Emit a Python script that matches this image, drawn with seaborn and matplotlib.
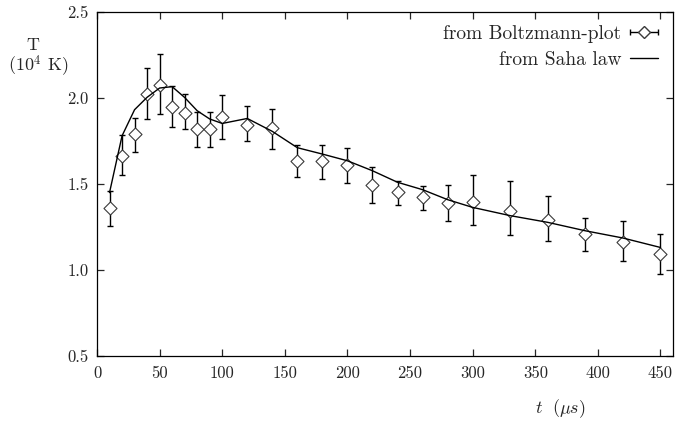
import numpy as np
import matplotlib
matplotlib.use("Agg")
import matplotlib.pyplot as plt
from matplotlib.container import ErrorbarContainer
from matplotlib.legend_handler import HandlerErrorbar
import seaborn as sns

# Boltzmann-plot measurements
t_meas = [10, 20, 30, 40, 50, 60, 70, 80, 90, 100, 120, 140, 160, 180, 200,
          220, 240, 260, 280, 300, 330, 360, 390, 420, 450]
T_meas = [1.358, 1.665, 1.79, 2.023, 2.077, 1.945, 1.915, 1.817, 1.817, 1.887,
          1.845, 1.823, 1.631, 1.631, 1.608, 1.494, 1.451, 1.426, 1.39, 1.397,
          1.345, 1.292, 1.207, 1.165, 1.091]
T_hi = [1.461, 1.783, 1.885, 2.174, 2.256, 2.067, 2.021, 1.92, 1.92, 2.015,
        1.953, 1.938, 1.724, 1.728, 1.709, 1.599, 1.517, 1.486, 1.492, 1.552,
        1.517, 1.428, 1.30, 1.283, 1.209]
T_lo = [1.254, 1.552, 1.684, 1.88, 1.907, 1.831, 1.817, 1.717, 1.713, 1.763,
        1.748, 1.705, 1.538, 1.531, 1.508, 1.39, 1.378, 1.35, 1.285, 1.26,
        1.205, 1.166, 1.112, 1.054, 0.977]

# Saha law curve
t_saha = [10, 20, 30, 40, 50, 60, 70, 80, 90, 100, 120, 140, 160, 180, 200,
          220, 240, 260, 280, 300, 330, 360, 390, 420, 450]
T_saha = [1.45, 1.78, 1.932, 2.004, 2.058, 2.066, 2.003, 1.926, 1.878, 1.852,
          1.881, 1.806, 1.711, 1.674, 1.635, 1.577, 1.51, 1.467, 1.409, 1.364,
          1.316, 1.277, 1.228, 1.186, 1.131]

x_ticks = [0, 50, 100, 150, 200, 250, 300, 350, 400, 450]
y_ticks = [0.5, 1.0, 1.5, 2.0, 2.5]

sns.set_style("ticks")
plt.rcParams.update({
    "font.family": ["cmr10", "DejaVu Serif"],
    "mathtext.fontset": "cm",
    "axes.formatter.use_mathtext": True,
    "axes.linewidth": 0.9,
    "xtick.direction": "in",
    "ytick.direction": "in",
    "xtick.top": True,
    "ytick.right": True,
    "xtick.major.size": 5,
    "ytick.major.size": 5,
    "xtick.major.width": 0.9,
    "ytick.major.width": 0.9,
    "font.size": 12,
})

fig = plt.figure(figsize=(6.75, 4.24), dpi=100)
ax = fig.add_axes([97 / 675, 1 - 356 / 424, (673 - 97) / 675, (356 - 12) / 424])

t_arr = np.array(t_meas)
T_arr = np.array(T_meas)
yerr = np.vstack([T_arr - np.array(T_lo), np.array(T_hi) - T_arr])

ax.errorbar(t_arr, T_arr, yerr=yerr, fmt="none", ecolor="black",
            elinewidth=1.0, capsize=2.5, capthick=1.0, zorder=2)
sns.scatterplot(x=t_meas, y=T_meas, marker="D", s=44, facecolor="white",
                edgecolor="#3a3a3a", linewidth=0.8, ax=ax, zorder=3)
sns.lineplot(x=t_saha, y=T_saha, color="black", linewidth=1.0, ax=ax, zorder=4)

# legend proxies
proxy_err = ax.errorbar([np.nan], [np.nan], xerr=[1.0], fmt="D", color="black",
                        mfc="white", mec="#3a3a3a", ms=6.5, elinewidth=1.0,
                        capsize=2.5, capthick=1.0,
                        label="from Boltzmann-plot")
proxy_line, = ax.plot([], [], color="black", lw=1.0, label="from Saha law")
ax.legend(handles=[proxy_err, proxy_line], loc="upper right",
          markerfirst=False, frameon=False, fontsize=14,
          handlelength=1.45, handletextpad=0.45, labelspacing=0.4,
          borderpad=0.0, borderaxespad=0.0,
          handler_map={ErrorbarContainer: HandlerErrorbar(xerr_size=0.72)},
          bbox_to_anchor=(658 / 675, 1 - 25 / 424),
          bbox_transform=fig.transFigure)

ax.set_xlim(0, 460)
ax.set_ylim(0.5, 2.5)
ax.set_xticks(x_ticks)
ax.set_yticks(y_ticks)
ax.set_xticklabels([str(v) for v in x_ticks])
ax.set_yticklabels([f"{v:.1f}" for v in y_ticks])
ax.tick_params(axis="x", pad=7, labelsize=12)
ax.tick_params(axis="y", pad=6, labelsize=12)
ax.set_xlabel("")
ax.set_ylabel("")
for sp in ax.spines.values():
    sp.set_visible(True)
    sp.set_color("black")

fig.text(33 / 675, 1 - 45 / 424, "T", ha="center", va="center", fontsize=13)
fig.text(38 / 675, 1 - 66 / 424, r"(10$^{4}$ K)", ha="center", va="center",
         fontsize=13)
fig.text(560 / 675, 1 - 409 / 424, r"$t\ \ (\mu s)$", ha="center",
         va="center", fontsize=13)

fig.savefig("out.png", dpi=100)
